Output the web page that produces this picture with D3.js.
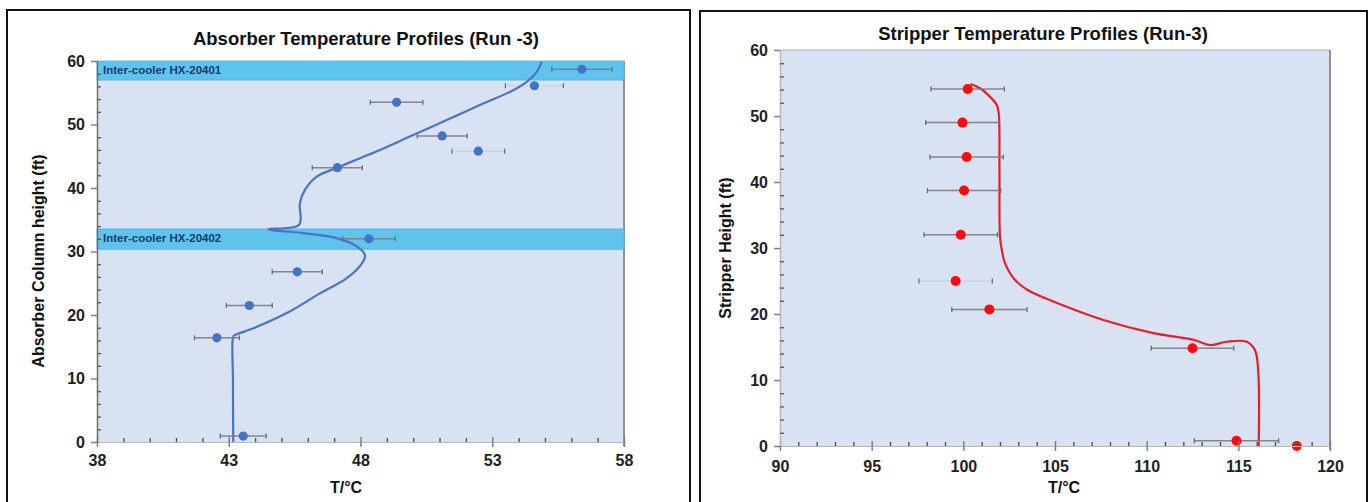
<!DOCTYPE html>
<html>
<head>
<meta charset="utf-8">
<script src="https://cdn.jsdelivr.net/npm/d3@7"></script>
<style>
  html, body { margin: 0; padding: 0; background: #ffffff; }
  svg { display: block; }
  text { font-family: "Liberation Sans", Arial, Helvetica, sans-serif; font-weight: bold; }
</style>
</head>
<body>
<svg id="chart" width="1372" height="502"></svg>
<script>
// ---- Absorber column: measured temperatures with uncertainty ----
const absTemp = [56.4, 54.6, 49.37, 51.1, 52.47, 47.12, 48.32, 45.6, 43.78, 42.55, 43.55];
const absHeight = [58.7, 56.1, 53.5, 48.2, 45.8, 43.2, 32.0, 26.8, 21.5, 16.4, 0.94];
const absErr = [1.14, 1.1, 1.0, 0.95, 1.0, 0.95, 1.0, 0.95, 0.87, 0.85, 0.87];

// Absorber model profile (temperature, height) from bottom to top
const absModelTemp = [43.17, 43.16, 43.17, 43.24, 43.93, 45.2, 46.46, 47.48, 48.05, 48.17, 47.86, 47.1, 45.83, 44.5,
  45.67, 45.7, 45.89, 46.34, 47.12, 47.98, 48.74, 50.0, 51.27, 52.53, 53.8, 54.31, 54.69, 54.88];
const absModelHeight = [0, 9.8, 16.6, 16.85, 17.9, 20.3, 23.4, 25.8, 28.1, 29.4, 30.8, 32.1, 32.9, 33.5,
  34.2, 37.6, 39.7, 41.8, 43.2, 44.7, 46.0, 48.35, 50.7, 53.07, 55.4, 56.7, 58.3, 59.9];

// Inter-cooler zones on the absorber column
const coolerNames = ["Inter-cooler HX-20401", "Inter-cooler HX-20402"];
const coolerBottom = [57.0, 30.35];
const coolerTop = [60.0, 33.55];

const absXTicks = [38, 43, 48, 53, 58];
const absYTicks = [0, 10, 20, 30, 40, 50, 60];

// ---- Stripper column ----
const stripTemp = [100.24, 99.95, 100.18, 100.04, 99.86, 99.58, 101.42, 112.5, 114.9, 118.19];
const stripHeight = [54.1, 49.0, 43.8, 38.7, 32.0, 25.0, 20.7, 14.8, 0.8, 0];
const stripErr = [2.0, 2.0, 2.0, 2.0, 2.0, 2.0, 2.05, 2.25, 2.3, 0];

const stripModelTemp = [100.4, 100.91, 101.46, 101.82, 101.93, 101.97, 102.0, 102.1, 102.27, 102.82, 103.53,
  104.91, 107.64, 110.37, 112.55, 113.46, 114.37, 115.46, 115.91, 116.09, 116.11];
const stripModelHeight = [54.85, 54.2, 52.9, 51.7, 50.4, 41.8, 31.7, 29.7, 27.7, 25.15, 23.6,
  21.9, 19.1, 17.1, 16.1, 15.3, 15.8, 15.8, 14.5, 11.0, 0];

const stripXTicks = [90, 95, 100, 105, 110, 115, 120];
const stripYTicks = [0, 10, 20, 30, 40, 50, 60];

const svg = d3.select("#chart");
svg.append("rect").attr("width", 1372).attr("height", 502).attr("fill", "#ffffff");

// panel frames
svg.append("rect").attr("x", 7).attr("y", 10).attr("width", 683).attr("height", 500)
  .attr("fill", "none").attr("stroke", "#111").attr("stroke-width", 2);
svg.append("rect").attr("x", 700).attr("y", 11).attr("width", 667).attr("height", 500)
  .attr("fill", "none").attr("stroke", "#111").attr("stroke-width", 2);

const plotBg = "#d9e2f2";
const tickColor = "#7a7a7a";
const labelColor = "#1e1e1e";

function range(a, b, step) { const r = []; for (let v = a; v <= b + 1e-9; v += step) r.push(+v.toFixed(6)); return r; }

function drawPanel(cfg) {
  const g = svg.append("g");
  const x = d3.scaleLinear().domain(cfg.xDomain).range(cfg.xRange);
  const y = d3.scaleLinear().domain(cfg.yDomain).range(cfg.yRange);

  // plot area
  g.append("rect")
    .attr("x", x(cfg.xDomain[0])).attr("y", y(cfg.yDomain[1]))
    .attr("width", x(cfg.xDomain[1]) - x(cfg.xDomain[0]))
    .attr("height", y(cfg.yDomain[0]) - y(cfg.yDomain[1]))
    .attr("fill", plotBg);

  if (cfg.topLine) {
    g.append("line").attr("x1", x(cfg.xDomain[0])).attr("x2", x(cfg.xDomain[1]))
      .attr("y1", y(cfg.yDomain[1])).attr("y2", y(cfg.yDomain[1]))
      .attr("stroke", "#a9aeb6").attr("stroke-width", 1.2);
  }
  // right edge of plot area
  g.append("line").attr("x1", x(cfg.xDomain[1])).attr("x2", x(cfg.xDomain[1]))
    .attr("y1", y(cfg.yDomain[1])).attr("y2", y(cfg.yDomain[0]) + 4)
    .attr("stroke", "#8d9299").attr("stroke-width", 2);

  if (cfg.bands) cfg.bands(g, x, y);

  // model profile
  const line = d3.line().x(d => x(d[0])).y(d => y(d[1])).curve(d3.curveCatmullRom.alpha(0.5));
  g.append("path")
    .datum(cfg.modelT.map((t, i) => [t, cfg.modelH[i]]))
    .attr("d", line).attr("fill", "none")
    .attr("stroke", cfg.lineColor).attr("stroke-width", 2.2);

  // error bars
  const eb = g.append("g");
  cfg.temps.forEach((t, i) => {
    const e = cfg.errs[i];
    if (!e) return;
    const yy = y(cfg.heights[i]);
    const faint = cfg.faint.has(i);
    eb.append("line").attr("x1", x(t - e)).attr("x2", x(t + e)).attr("y1", yy).attr("y2", yy)
      .attr("stroke", "#7d7d7d").attr("stroke-width", 1.5).attr("opacity", faint ? 0.12 : 0.9);
    [t - e, t + e].forEach(v => {
      eb.append("line").attr("x1", x(v)).attr("x2", x(v)).attr("y1", yy - 2.5).attr("y2", yy + 2.5)
        .attr("stroke", "#6d6d6d").attr("stroke-width", 1.3);
    });
  });

  // measured points
  g.append("g").selectAll("circle")
    .data(cfg.temps.map((t, i) => [t, cfg.heights[i]]))
    .join("circle")
    .attr("cx", d => x(d[0])).attr("cy", d => y(d[1]))
    .attr("r", cfg.pointR).attr("fill", cfg.pointColor);

  // axes
  const xMajor = d3.axisBottom(x).tickValues(cfg.xTicks).tickSizeInner(0).tickSizeOuter(0).tickPadding(14);
  const xAx = g.append("g").attr("transform", `translate(0,${y(cfg.yDomain[0])})`).call(xMajor);
  xAx.select(".domain").attr("stroke", "#b4b8bf").attr("stroke-width", 1);
  xAx.selectAll("text").attr("font-size", 16).attr("fill", labelColor)
    .attr("font-family", "'Liberation Sans', Arial, sans-serif").attr("font-weight", "bold")
    .attr("dy", cfg.xLabelDy);
  xAx.selectAll(".tick").append("line").attr("y1", -5).attr("y2", 5).attr("stroke", tickColor).attr("stroke-width", 1.4);

  const xMinorVals = range(cfg.xDomain[0], cfg.xDomain[1], 1).filter(v => !cfg.xTicks.includes(v));
  const xMinor = d3.axisBottom(x).tickValues(xMinorVals).tickSize(-4).tickFormat("");
  const xMin = g.append("g").attr("transform", `translate(0,${y(cfg.yDomain[0])})`).call(xMinor);
  xMin.select(".domain").remove();
  xMin.selectAll(".tick line").attr("stroke", "#555").attr("stroke-width", 1.4);

  const yMajor = d3.axisLeft(y).tickValues(cfg.yTicks).tickSize(6).tickSizeOuter(0).tickPadding(6);
  const yAx = g.append("g").attr("transform", `translate(${x(cfg.xDomain[0])},0)`).call(yMajor);
  yAx.select(".domain").attr("stroke", cfg.yDomainColor).attr("stroke-width", 1.5);
  yAx.selectAll(".tick line").attr("stroke", tickColor).attr("stroke-width", 1.4);
  yAx.selectAll("text").attr("font-size", 16).attr("fill", labelColor)
    .attr("font-family", "'Liberation Sans', Arial, sans-serif").attr("font-weight", "bold");

  const yMinorVals = range(cfg.yDomain[0], cfg.yDomain[1], 2).filter(v => !cfg.yTicks.includes(v));
  const yMinor = d3.axisLeft(y).tickValues(yMinorVals).tickSize(-4).tickFormat("");
  const yMin = g.append("g").attr("transform", `translate(${x(cfg.xDomain[0])},0)`).call(yMinor);
  yMin.select(".domain").remove();
  yMin.selectAll(".tick line").attr("stroke", "#555").attr("stroke-width", 1.3);

  // titles
  g.append("text").attr("x", cfg.titleX).attr("y", cfg.titleY).attr("text-anchor", "middle")
    .attr("font-size", 18.5).attr("fill", "#111").text(cfg.title);
  g.append("text").attr("x", cfg.xTitleX).attr("y", 493).attr("text-anchor", "middle")
    .attr("font-size", 16).attr("fill", "#111").text("T/°C");
  g.append("text").attr("transform", `translate(${cfg.yTitleX},${cfg.yTitleY}) rotate(-90)`)
    .attr("text-anchor", "middle").attr("font-size", 16).attr("fill", "#111").text(cfg.yTitle);
}

// Absorber panel
drawPanel({
  xDomain: [38, 58], xRange: [97, 624],
  yDomain: [0, 60], yRange: [442, 61],
  xTicks: absXTicks, yTicks: absYTicks,
  temps: absTemp, heights: absHeight, errs: absErr, faint: new Set([1, 4]),
  modelT: absModelTemp, modelH: absModelHeight,
  lineColor: "#4a74c2", pointColor: "#4472c4", pointR: 4.6,
  yDomainColor: "#6f6f6f", topLine: false, xLabelDy: "0.62em",
  title: "Absorber Temperature Profiles (Run -3)", titleX: 366, titleY: 45,
  xTitleX: 346, yTitle: "Absorber Column height (ft)", yTitleX: 44, yTitleY: 261,
  bands: (g, x, y) => {
    coolerNames.forEach((name, i) => {
      g.append("rect").attr("x", x(38)).attr("y", y(coolerTop[i]))
        .attr("width", x(58) - x(38)).attr("height", y(coolerBottom[i]) - y(coolerTop[i]))
        .attr("fill", "#5ec4ee").attr("stroke", "#4fb3e0").attr("stroke-width", 0.8);
      g.append("text").attr("x", x(38) + 6).attr("y", y(coolerTop[i]) + 13)
        .attr("font-size", 11.5).attr("fill", "#1d3a6b").text(name);
    });
  }
});

// Stripper panel
drawPanel({
  xDomain: [90, 120], xRange: [780, 1330],
  yDomain: [0, 60], yRange: [446, 50],
  xTicks: stripXTicks, yTicks: stripYTicks,
  temps: stripTemp, heights: stripHeight, errs: stripErr, faint: new Set([5]),
  modelT: stripModelTemp, modelH: stripModelHeight,
  lineColor: "#e2202c", pointColor: "#ff0a0a", pointR: 5,
  yDomainColor: "#b4b8bf", topLine: true, xLabelDy: "0.78em",
  title: "Stripper Temperature Profiles (Run-3)", titleX: 1043, titleY: 40,
  xTitleX: 1064, yTitle: "Stripper Height (ft)", yTitleX: 731, yTitleY: 248
});
</script>
</body>
</html>
